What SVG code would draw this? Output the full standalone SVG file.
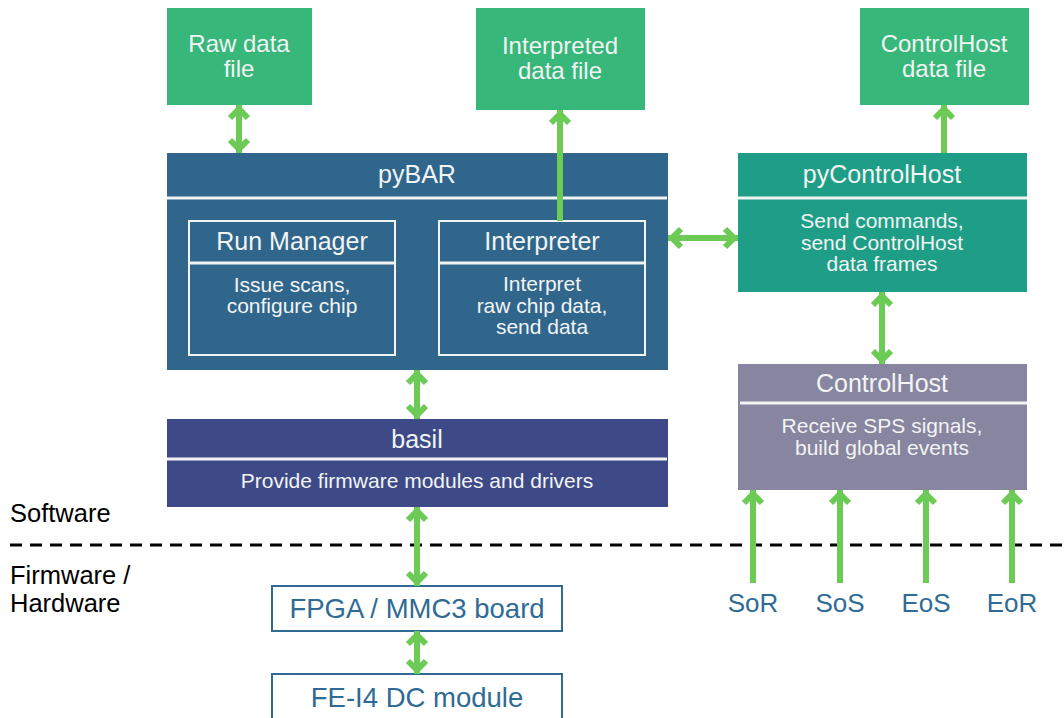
<svg xmlns="http://www.w3.org/2000/svg" width="1064" height="718" viewBox="0 0 1064 718">
<style>
text{font-family:"Liberation Sans",Arial,sans-serif;text-anchor:middle}
.w{fill:#f2f4f4}
.t{font-size:25px}
.f{font-size:24px}
.b{font-size:21px}
.file{fill:#37b77a}
.div{stroke:#f2f4f4;stroke-width:3}
.inner{fill:none;stroke:#f2f4f4;stroke-width:2}
.conn{stroke:#6ccb55;stroke-width:6;fill:none}
.lbl{fill:#2f6b94;font-size:26px}
.hwt{fill:#2f6b94;font-size:27.5px}
.side{fill:#000;font-size:25.5px;text-anchor:start}
.hw{fill:#fff;stroke:#2f6b94;stroke-width:2}
</style>
<defs>
<marker id="ah" viewBox="-20 -14 24 28" refX="0" refY="0" markerWidth="24" markerHeight="28" markerUnits="userSpaceOnUse" orient="auto-start-reverse">
<path d="M-13,-9 L-4,0 L-13,9" fill="none" stroke="#6ccb55" stroke-width="6"/>
</marker>
</defs>
<rect width="1064" height="718" fill="#fff"/>

<g id="rawfile">
<rect class="file" x="167" y="8" width="145" height="97"/>
<text class="w f" x="239" y="52">Raw data</text>
<text class="w f" x="239" y="77">file</text>
</g>
<g id="interpfile">
<rect class="file" x="476" y="8" width="169" height="102"/>
<text class="w f" x="560" y="54">Interpreted</text>
<text class="w f" x="560" y="79">data file</text>
</g>
<g id="chfile">
<rect class="file" x="860" y="8" width="169" height="97"/>
<text class="w f" x="944" y="52">ControlHost</text>
<text class="w f" x="944" y="77">data file</text>
</g>

<g id="pybar">
<rect x="167" y="153" width="501" height="217" fill="#30668c"/>
<line class="div" x1="167" y1="198" x2="667" y2="198"/>
<text class="w t" x="417" y="183">pyBAR</text>
</g>
<g id="runmanager">
<rect class="inner" x="189" y="221" width="206" height="134"/>
<line class="div" x1="189" y1="263" x2="395" y2="263" stroke-width="2"/>
<text class="w t" x="292" y="250">Run Manager</text>
<text class="w b" x="292" y="292">Issue scans,</text>
<text class="w b" x="292" y="313">configure chip</text>
</g>
<g id="interpreter">
<rect class="inner" x="439" y="221" width="206" height="134"/>
<line class="div" x1="439" y1="263" x2="645" y2="263" stroke-width="2"/>
<text class="w t" x="542" y="250">Interpreter</text>
<text class="w b" x="542" y="291">Interpret</text>
<text class="w b" x="542" y="313">raw chip data,</text>
<text class="w b" x="542" y="334">send data</text>
</g>

<g id="pycontrolhost">
<rect x="738" y="153" width="289" height="139" fill="#1f9e87"/>
<line class="div" x1="738" y1="198" x2="1027" y2="198"/>
<text class="w t" x="882" y="183">pyControlHost</text>
<text class="w b" x="882" y="228">Send commands,</text>
<text class="w b" x="882" y="250">send ControlHost</text>
<text class="w b" x="882" y="271">data frames</text>
</g>

<g id="controlhost">
<rect x="738" y="364" width="289" height="126" fill="#8885a0"/>
<line class="div" x1="740" y1="403" x2="1027" y2="403"/>
<text class="w t" x="882" y="392">ControlHost</text>
<text class="w b" x="882" y="433">Receive SPS signals,</text>
<text class="w b" x="882" y="455">build global events</text>
</g>

<g id="basil">
<rect x="167" y="419" width="501" height="88" fill="#3e4a88"/>
<line class="div" x1="167" y1="459" x2="667" y2="459"/>
<text class="w t" x="417" y="448">basil</text>
<text class="w b" x="417" y="488">Provide firmware modules and drivers</text>
</g>

<g id="fpga">
<rect class="hw" x="272" y="586" width="290" height="45"/>
<text class="hwt" x="417" y="618">FPGA / MMC3 board</text>
</g>
<g id="fei4">
<rect class="hw" x="272" y="674" width="290" height="50"/>
<text class="hwt" x="417" y="707">FE-I4 DC module</text>
</g>

<g id="labels">
<text class="side" x="10" y="522">Software</text>
<text class="side" x="10" y="584">Firmware /</text>
<text class="side" x="10" y="612">Hardware</text>
<text class="lbl" x="753" y="612">SoR</text>
<text class="lbl" x="840" y="612">SoS</text>
<text class="lbl" x="926" y="612">EoS</text>
<text class="lbl" x="1012" y="612">EoR</text>
</g>

<line id="divider" x1="10" y1="545" x2="1064" y2="545" stroke="#000" stroke-width="3" stroke-dasharray="12 8"/>

<g id="connectors">
<line class="conn" x1="239" y1="105" x2="239" y2="153" marker-start="url(#ah)" marker-end="url(#ah)"/>
<line class="conn" x1="560" y1="221" x2="560" y2="110" marker-end="url(#ah)"/>
<line class="conn" x1="668" y1="238" x2="738" y2="238" marker-start="url(#ah)" marker-end="url(#ah)"/>
<line class="conn" x1="944" y1="153" x2="944" y2="105" marker-end="url(#ah)"/>
<line class="conn" x1="882" y1="292" x2="882" y2="364" marker-start="url(#ah)" marker-end="url(#ah)"/>
<line class="conn" x1="417" y1="370" x2="417" y2="419" marker-start="url(#ah)" marker-end="url(#ah)"/>
<line class="conn" x1="417" y1="507" x2="417" y2="586" marker-start="url(#ah)" marker-end="url(#ah)"/>
<line class="conn" x1="417" y1="631" x2="417" y2="674" marker-start="url(#ah)" marker-end="url(#ah)"/>
<line class="conn" x1="753" y1="583" x2="753" y2="490" marker-end="url(#ah)"/>
<line class="conn" x1="840" y1="583" x2="840" y2="490" marker-end="url(#ah)"/>
<line class="conn" x1="926" y1="583" x2="926" y2="490" marker-end="url(#ah)"/>
<line class="conn" x1="1012" y1="583" x2="1012" y2="490" marker-end="url(#ah)"/>
</g>
</svg>
